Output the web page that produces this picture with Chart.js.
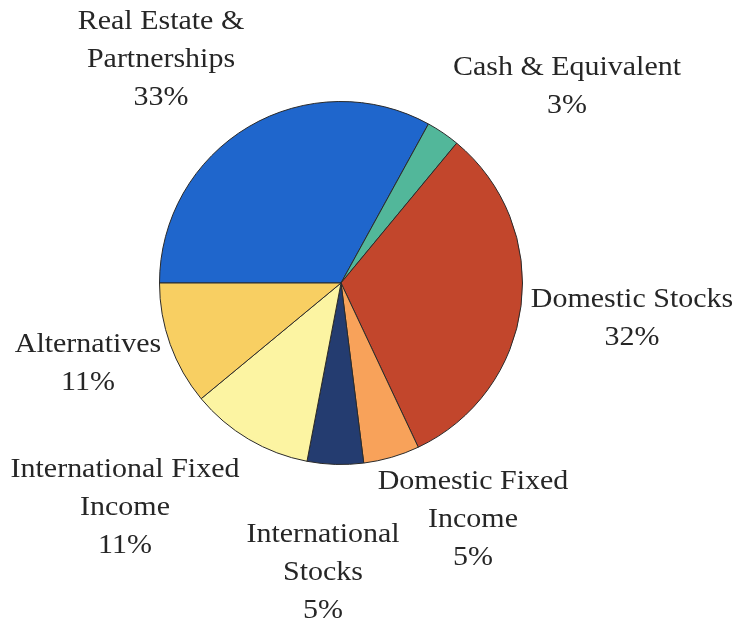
<!DOCTYPE html>
<html>
<head>
<meta charset="utf-8">
<script src="https://cdn.jsdelivr.net/npm/chart.js@4.4.1/dist/chart.umd.min.js"></script>
<style>
  html, body { margin: 0; padding: 0; background: #ffffff; }
  #wrap { width: 736px; height: 626px; position: relative; }
</style>
</head>
<body>
<div id="wrap"><canvas id="pieChart"></canvas></div>
<script>
const categories = [
  'Real Estate & Partnerships',
  'Cash & Equivalent',
  'Domestic Stocks',
  'Domestic Fixed Income',
  'International Stocks',
  'International Fixed Income',
  'Alternatives'
];
const shares = [33, 3, 32, 5, 5, 11, 11];
const labelLines = [
  ['Real Estate &', 'Partnerships'],
  ['Cash & Equivalent'],
  ['Domestic Stocks'],
  ['Domestic Fixed', 'Income'],
  ['International', 'Stocks'],
  ['International Fixed', 'Income'],
  ['Alternatives']
];
const sliceColors = ['#1f66cc', '#52b79a', '#c2462c', '#f8a25a', '#243c70', '#fcf4a2', '#f8cf62'];

// where each label block sits, as offset of its first line from the pie centre
const labelOffsets = [
  [-180, -261], [226, -215], [291, 17], [132, 199],
  [-18, 252], [-216, 187], [-253, 62]
];

const outsideLabels = {
  id: 'outsideLabels',
  afterDraw(chart) {
    const arc = chart.getDatasetMeta(0).data[0];
    if (!arc) return;
    const ctx = chart.ctx;
    ctx.save();
    ctx.fillStyle = '#262626';
    ctx.font = '27px "Liberation Serif", "Times New Roman", serif';
    ctx.textAlign = 'center';
    ctx.textBaseline = 'middle';
    labelLines.forEach((lines, i) => {
      const all = [...lines, shares[i] + '%'];
      const [dx, dy] = labelOffsets[i];
      all.forEach((t, j) => {
        ctx.save();
        ctx.translate(arc.x + dx, arc.y + dy + j * 38);
        ctx.scale(1.11, 1); // source text is a bit stretched sideways
        ctx.fillText(t, 0, 0);
        ctx.restore();
      });
    });
    ctx.restore();
  }
};

new Chart(document.getElementById('pieChart'), {
  type: 'pie',
  data: {
    labels: categories,
    datasets: [{
      data: shares,
      backgroundColor: sliceColors,
      borderColor: '#2a2a2a',
      borderWidth: 1
    }]
  },
  options: {
    responsive: true,
    maintainAspectRatio: false,
    animation: false,
    rotation: -90,
    layout: { padding: { left: 159, right: 213, top: 101, bottom: 161 } },
    plugins: {
      legend: { display: false },
      tooltip: { enabled: false }
    }
  },
  plugins: [outsideLabels]
});
</script>
</body>
</html>
